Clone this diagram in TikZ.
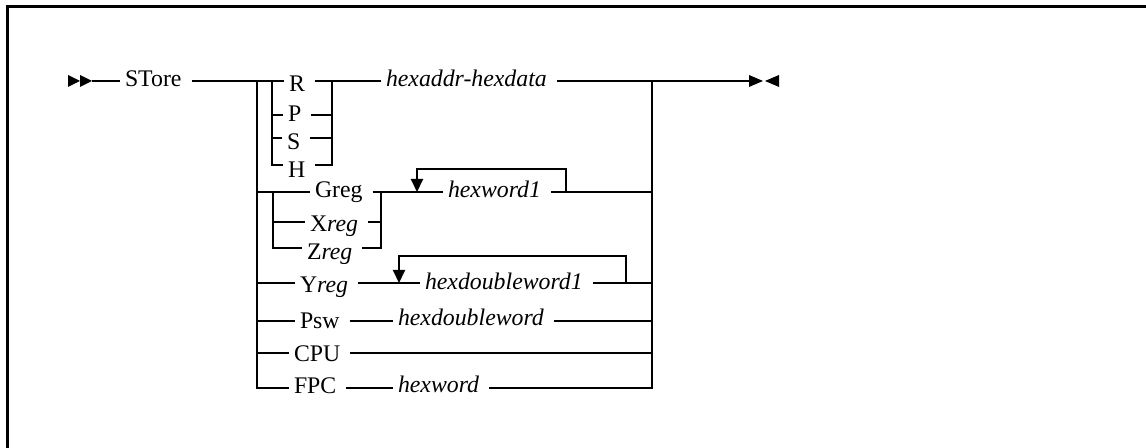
\documentclass[tikz,border=0pt]{standalone}
\usepackage{fontspec}
\setmainfont{Liberation Serif}
\usetikzlibrary{arrows.meta}
\tikzset{
  rail/.style={line width=1pt},
  lbl/.style={inner sep=0pt, outer xsep=2.5pt, anchor=base west,
              execute at end node={\hspace{2.5pt}}},
  looprail/.style={rail, -{Triangle[width=6pt,length=6.5pt]}},
  endmark/.style={fill=black},
}
\begin{document}
\begin{tikzpicture}[x=0.5pt, y=-0.5pt, font=\fontsize{11.9}{14}\selectfont]
\useasboundingbox (0,0) rectangle (1146,448);
% frame (only top and left edges are visible)
\draw[line width=1.5pt] (7,448) -- (7,7) -- (1146,7);

% rows
\coordinate (rM) at (0,81);
\coordinate (rP) at (0,115);
\coordinate (rS) at (0,138);
\coordinate (rH) at (0,165);
\coordinate (rG) at (0,192);
\coordinate (rX) at (0,222);
\coordinate (rZ) at (0,248);
\coordinate (rY) at (0,283);
\coordinate (rW) at (0,321);
\coordinate (rC) at (0,353);
\coordinate (rF) at (0,388);
% columns
\coordinate (vL) at (257,0);
\coordinate (vR1) at (272,0);
\coordinate (vR2) at (332,0);
\coordinate (vG1) at (273,0);
\coordinate (vG2) at (381,0);
\coordinate (vE) at (652,0);
\coordinate (lgA) at (417,169);
\coordinate (lgB) at (566,169);
\coordinate (lyA) at (399,256);
\coordinate (lyB) at (626,256);
\coordinate (st0) at (92,81);
\coordinate (en0) at (750,81);

% labels
\node[lbl] (ST) at (120,87) {STore};
\node[lbl] (R) at (284,92) {R};
\node[lbl] (P) at (283,122) {P};
\node[lbl] (S) at (282,150) {S};
\node[lbl] (H) at (283,178) {H};
\node[lbl] (HA) at (381,87) {\textit{hexaddr-hexdata}\hspace{4pt}};
\node[lbl] (Greg) at (310,198) {Greg};
\node[lbl] (Xreg) at (305,232) {X\textit{reg}};
\node[lbl] (Zreg) at (302,260) {Z\textit{reg}};
\node[lbl] (HW1) at (443,198) {\textit{hexword1}};
\node[lbl] (Yreg) at (295,293) {Y\textit{reg}};
\node[lbl] (HDW1) at (420,290) {\textit{hexdoubleword1}};
\node[lbl] (Psw) at (295,329) {Psw};
\node[lbl] (HDW) at (393,326) {\textit{hexdoubleword}\hspace{2pt}};
\node[lbl] (CPU) at (289,362) {CPU};
\node[lbl] (FPC) at (289,394) {FPC};
\node[lbl] (HW) at (393,393) {\textit{hexword}\hspace{5pt}};

% start and end marks
\fill[endmark] (68,75) -- (80,81) -- (68,87) -- cycle;
\fill[endmark] (80,75) -- (92,81) -- (80,87) -- cycle;
\fill[endmark] (749,75) -- (763,81) -- (749,87) -- cycle;
\fill[endmark] (779,75) -- (765,81) -- (779,87) -- cycle;

% main line
\draw[rail] (st0) -- (ST.west |- rM);
\draw[rail] (ST.east |- rM) -- (R.west |- rM);
\draw[rail] (R.east |- rM) -- (HA.west |- rM);
\draw[rail] (HA.east |- rM) -- (en0);

% main verticals
\draw[rail] (vL |- rM) -- (vL |- rF) -- (FPC.west |- rF);
\draw[rail] (vE |- rM) -- (vE |- rF) -- (HW.east |- rF);

% R P S H group
\draw[rail] (vR1 |- rM) -- (vR1 |- rH) -- (H.west |- rH);
\draw[rail] (vR1 |- rP) -- (P.west |- rP);
\draw[rail] (vR1 |- rS) -- (S.west |- rS);
\draw[rail] (vR2 |- rM) -- (vR2 |- rH) -- (H.east |- rH);
\draw[rail] (P.east |- rP) -- (vR2 |- rP);
\draw[rail] (S.east |- rS) -- (vR2 |- rS);

% Greg Xreg Zreg group
\draw[rail] (vL |- rG) -- (Greg.west |- rG);
\draw[rail] (vG1 |- rG) -- (vG1 |- rZ) -- (Zreg.west |- rZ);
\draw[rail] (vG1 |- rX) -- (Xreg.west |- rX);
\draw[rail] (Greg.east |- rG) -- (HW1.west |- rG);
\draw[rail] (vG2 |- rG) -- (vG2 |- rZ) -- (Zreg.east |- rZ);
\draw[rail] (Xreg.east |- rX) -- (vG2 |- rX);
\draw[rail] (HW1.east |- rG) -- (vE |- rG);
\draw[looprail] (lgB |- rG) -- (lgB) -- (lgA) -- (lgA |- rG);

% Yreg
\draw[rail] (vL |- rY) -- (Yreg.west |- rY);
\draw[rail] (Yreg.east |- rY) -- (HDW1.west |- rY);
\draw[rail] (HDW1.east |- rY) -- (vE |- rY);
\draw[looprail] (lyB |- rY) -- (lyB) -- (lyA) -- (lyA |- rY);

% Psw
\draw[rail] (vL |- rW) -- (Psw.west |- rW);
\draw[rail] (Psw.east |- rW) -- (HDW.west |- rW);
\draw[rail] (HDW.east |- rW) -- (vE |- rW);

% CPU
\draw[rail] (vL |- rC) -- (CPU.west |- rC);
\draw[rail] (CPU.east |- rC) -- (vE |- rC);

% FPC
\draw[rail] (FPC.east |- rF) -- (HW.west |- rF);
\end{tikzpicture}
\end{document}
